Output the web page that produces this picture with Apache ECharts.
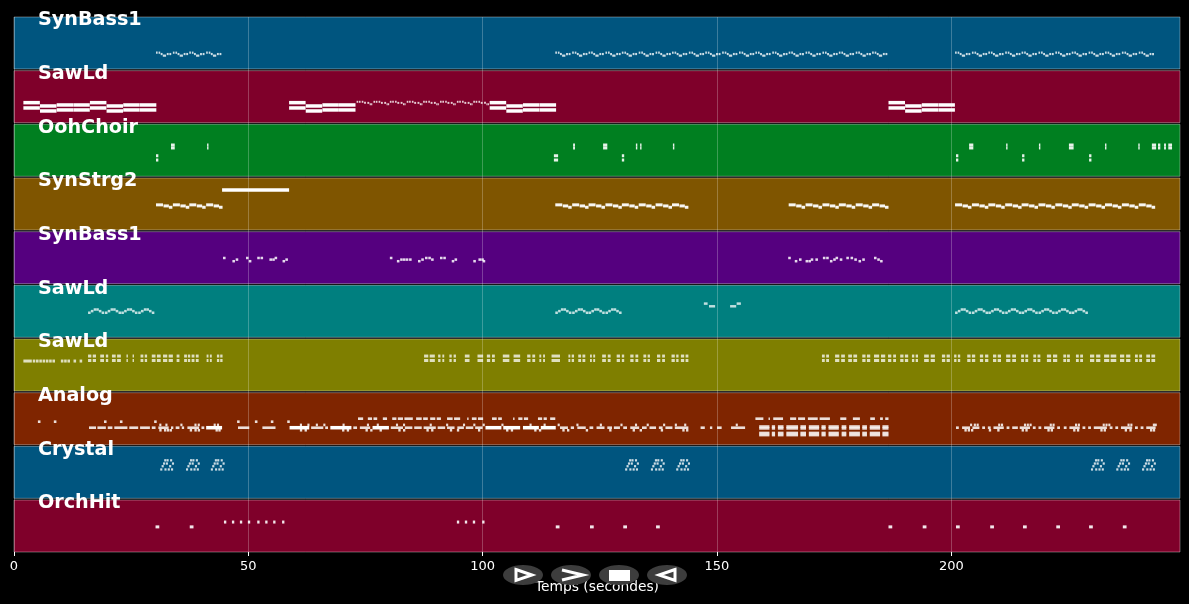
<!DOCTYPE html>
<html><head><meta charset="utf-8">
<style>html,body{margin:0;padding:0;background:#000}#c{width:1189px;height:604px}</style>
<script src="https://cdn.jsdelivr.net/npm/echarts@6/dist/echarts.min.js"></script>
</head><body><div id="c"></div>
<script>
const trackNames = ['SynBass1','SawLd','OohChoir','SynStrg2','SynBass1','SawLd','SawLd','Analog','Crystal','OrchHit'];
const xTicks = [0,50,100,150,200];
const xTitle = 'Temps (secondes)';

// each lane: [relative pitch height in the lane, starts, duration]  or  [relative pitch height, [start,end,start,end...]]
const lanesSynBass1 = [
 [.665,[30.3,30.85,33.9,34.45,37.4,37.95,41,41.55,115.5,116.05,119.1,119.65,122.6,123.15,126.2,126.75,129.7,130.25,133.3,133.85,136.9,137.45,140.4,140.95,144,144.55,147.5,148.05,151.1,151.65,154.7,155.25,158.2,158.75,161.8,162.35,165.3,165.85,168.9,169.45,172.5,173.05,176,176.55,179.6,180.15,183.1,183.65,200.8,201.35,204.4,204.95,207.9,208.45,211.5,212.05,215,215.55,218.6,219.15,222.2,222.75,225.7,226.25,229.3,229.85,232.8,233.35,236.4,236.95,240,240.55],.35],
 [.69,[31.3,32.6,33.15,34.9,36.2,36.75,38.4,39.7,40.25,42,43.3,43.85,116.5,117.8,118.35,120.1,121.4,121.95,123.6,124.9,125.45,127.2,128.5,129.05,130.7,132,132.55,134.3,135.6,136.15,137.9,139.2,139.75,141.4,142.7,143.25,145,146.3,146.85,148.5,149.8,150.35,152.1,153.4,153.95,155.7,157,157.55,159.2,160.5,161.05,162.8,164.1,164.65,166.3,167.6,168.15,169.9,171.2,171.75,173.5,174.8,175.35,177,178.3,178.85,180.6,181.9,182.45,184.1,185.4,185.95,201.8,203.1,203.65,205.4,206.7,207.25,208.9,210.2,210.75,212.5,213.8,214.35,216,217.3,217.85,219.6,220.9,221.45,223.2,224.5,225.05,226.7,228,228.55,230.3,231.6,232.15,233.8,235.1,235.65,237.4,238.7,239.25,241,242.3,242.85],.4],
 [.72,[31.75,35.35,38.85,42.45,116.95,120.55,124.05,127.65,131.15,134.75,138.35,141.85,145.45,148.95,152.55,156.15,159.65,163.25,166.75,170.35,173.95,177.45,181.05,184.55,202.25,205.85,209.35,212.95,216.45,220.05,223.65,227.15,230.75,234.25,237.85,241.45],.7]
];
const lanesSawLdA = [
 [.596,[2,16.2,58.7,101.5,186.6],3.52],[.695,[2,16.2,58.7,101.5,186.6],3.52],
 [.658,[5.55,19.75,62.25,105.05,190.15],3.52],[.751,[5.55,19.75,62.25,105.05,190.15],3.52],
 [.639,[9.1,12.65,23.3,26.85,65.8,69.35,108.6,112.15,193.7,197.25],3.52],[.732,[9.1,12.65,23.3,26.85,65.8,69.35,108.6,112.15,193.7,197.25],3.52],
 [.58,[73.1,73.6,74.2,76.7,77.2,77.8,80.2,80.7,81.3,83.8,84.3,84.9,87.3,87.8,88.4,90.9,91.4,92,94.5,95,95.6,98,98.5,99.1],.35],
 [.6,[74.7,75.4,78.3,79,81.8,82.5,85.4,86.1,88.9,89.6,92.5,93.2,96.1,96.8,99.6,100.3],.4],
 [.625,[75.9,76.2,79.5,79.8,83,83.3,86.6,86.9,90.1,90.4,93.7,94,97.3,97.6,100.8,101.1],.25]
];
const lanesOohChoir = [
 [.385,[33.5,34.3,41.2,41.5,119.3,119.7,125.7,126.6,132.7,133,133.6,133.9,140.6,140.9,203.8,204.7,211.7,212,218.7,219,225.1,226.1,232.8,233.1,239.9,240.2,242.8,243.7,244.1,244.6,245.4,245.8,246.3,247.1]],
 [.44,[33.5,34.3,41.2,41.5,119.3,119.7,125.7,126.6,132.7,133,133.6,133.9,140.6,140.9,203.8,204.7,211.7,212,218.7,219,225.1,226.1,232.8,233.1,239.9,240.2,242.8,243.7,244.1,244.6,245.4,245.8,246.3,247.1]],
 [.585,[30.3,30.8,115.2,116.1,129.7,130.2,201,201.5,215.1,215.6,229.4,229.9]],
 [.665,[30.3,30.8,115.2,116.1,129.7,130.2,201,201.5,215.1,215.6,229.4,229.9]]
];
const lanesSynStrg2 = [
 [.224,[44.4,58.7]],
 [.5,[30.3,33.9,37.4,41,115.5,119.1,122.6,126.2,129.7,133.3,136.9,140.4,165.3,168.9,172.5,176,179.6,183.1,200.8,204.4,207.9,211.5,215,218.6,222.2,225.7,229.3,232.8,236.4,240],1.5],
 [.52,[31.9,35.5,39,42.6,117.1,120.7,124.2,127.8,131.3,134.9,138.5,142,166.9,170.5,174.1,177.6,181.2,184.7,202.4,206,209.5,213.1,216.6,220.2,223.8,227.3,230.9,234.4,238,241.6],1.15],
 [.545,[33.05,36.65,40.15,43.75,118.25,121.85,125.35,128.95,132.45,136.05,139.65,143.15,168.05,171.65,175.25,178.75,182.35,185.85,203.55,207.15,210.65,214.25,217.75,221.35,224.95,228.45,232.05,235.55,239.15,242.75],.75]
];
const lanesSynBass1B = [
 [.49,[44.6,49.5,51.9,52.6,55.6,80.2,87.7,88.4,90.9,91.6,165.2,172.6,173.3,175.3,177.6,178.5,183.5],.55],
 [.52,[47.3,54.5,55.1,57.9,82.4,83,83.6,84.3,86.9,89,94,99.1,99.7,167.5,170,171,174.8,176.2,179.3,181,184.2],.55],
 [.55,[46.6,50.1,57.3,81.7,86.2,93.4,98,100,166.6,168.9,169.5,174.1,180.2,184.8],.55]
];
const lanesSawLdB = [
 [.51,[15.8,18.7,19.4,22.3,22.9,25.8,26.5,29.4,115.5,118.4,119.1,122,122.6,125.5,126.2,129.1,200.8,203.7,204.4,207.3,207.9,210.8,211.5,214.4,215,217.9,218.6,221.5,222.2,225.1,225.7,228.6],.55],
 [.48,[16.4,18.1,20,21.7,23.5,25.2,27.1,28.8,116.1,117.8,119.7,121.4,123.2,124.9,126.8,128.5,201.4,203.1,205,206.7,208.5,210.2,212.1,213.8,215.6,217.3,219.2,220.9,222.8,224.5,226.3,228],.55],
 [.45,[17,17.55,20.6,21.15,24.1,24.65,27.7,28.25,116.7,117.25,120.3,120.85,123.8,124.35,127.4,127.95,202,202.55,205.6,206.15,209.1,209.65,212.7,213.25,216.2,216.75,219.8,220.35,223.4,223.95,226.9,227.45],.55],
 [.34,[147.2,148,154.2,155.1]],
 [.39,[148.3,149.6,152.8,154.1]]
];
const sawLdCBlocks = [15.8,16.5,16.8,17.5,18.4,19.2,19.6,20.1,20.9,21.7,22,22.8,24,24.3,25.3,25.6,27,27.6,27.9,28.4,29.4,30.2,30.5,31.3,31.8,32.7,33,33.9,34.7,35.3,36.3,36.9,37.1,37.6,37.9,38.5,38.8,39.4,41.1,41.5,41.8,42.2,43.3,43.8,44,44.5,
 87.5,88.4,88.7,89.8,90.5,91,91.4,91.8,92.9,93.4,93.8,94.3,96.2,97.2,98.9,100.1,100.9,101.6,102,102.6,104.3,105.7,106.6,108,109.5,110.2,110.6,111.2,112.1,112.5,112.9,113.3,114.7,116.5,118.3,118.7,119,119.5,120.4,121,121.3,121.9,122.9,123.3,123.6,124,125.5,126.3,126.7,127.3,128.6,129.3,129.7,130.2,131.5,132.2,132.6,133.2,134.3,134.9,135.2,135.7,137.2,137.9,138.3,138.9,140.3,141,141.3,141.8,142.3,143,143.3,143.9,
 172.4,173,173.3,173.9,175.2,176.1,176.5,177.3,178,178.8,179.1,179.9,181,181.7,182,182.7,183.5,184.6,185,185.9,186.5,187.2,187.6,188.2,189.1,189.8,190.1,190.8,191.6,192.1,192.4,192.9,194.2,195.2,195.6,196.5,198,198.7,199,199.7,200.6,201.1,201.4,201.9,203.4,204.1,204.4,205.1,206.1,206.8,207.2,207.9,208.9,209.6,209.9,210.6,211.7,212.6,213,213.8,214.9,215.5,215.8,216.4,217.5,218.1,218.4,219,220.4,221.3,221.7,222.6,223.9,224.5,224.7,225.3,226.6,227.2,227.5,228.1,229.6,230.5,230.9,231.8,232.6,233.7,234,235.2,236,236.9,237.3,238.2,239.2,239.8,240.1,240.7,241.6,242.4,242.7,243.5];
const lanesSawLdC = [
 [.317,sawLdCBlocks],[.4,sawLdCBlocks],
 [.41,[2,3.8]],
 [.41,[4,4.7,5.4,6.1,6.8,7.5,8.2,10,10.7,11.4,12.7,14],.55]
];
const analogMain = [16,17.5,17.8,19.6,20,21,21.4,24.2,24.6,26.5,26.9,29,29.4,30.2,30.8,33,33.5,34,34.5,35.3,35.8,36.3,37,39.5,40,40.6,41,44.4,47.8,50.2,53,55.8,
 58.8,63,63.4,66,66.4,67,67.5,72,72.4,73.2,73.8,76,76.5,80,80.4,83,83.4,85,85.4,87,87.4,90,90.4,92,92.4,94,94.6,96,96.4,98,98.4,100,100.6,104,104.4,108,108.6,112,112.4,115.6,116.5,118.2,118.8,119.5,120.2,122,122.8,123.6,124.3,126,126.6,127.6,128,129.3,130,130.8,131.5,133.4,134,135,135.6,137,137.6,138.4,139,140.5,141,143.9,146.5,147.4,148.5,149,150,151,153,156,
 201,201.6,202.3,204,204.5,206,206.6,207.2,207.8,208.4,209,211.2,211.8,212.4,213,214.2,214.6,216.8,217.4,218,218.6,219.2,219.8,222,222.6,223.2,224,224.6,225.2,227.4,228,228.6,229.2,229.8,230.4,233.2,233.8,234.4,235,235.6,236.2,238.6,239.2,239.8,240.4,241,241.6,243.6];
const analogChord = [159,161.2,161.7,162.4,163,164.2,164.8,167.3,167.8,169,169.6,171.8,172.3,173.2,173.8,176,176.6,177.6,178.2,180.5,181,182,182.6,184.8,185.3,186.6];
const analogUpper = [73.4,74.5,75.5,76.4,76.7,77.5,78.7,79.6,80.7,81.6,81.9,83,83.3,85.1,85.8,87,87.3,88.3,88.8,89.9,90.2,91.1,92.4,93.6,93.9,95.2,96.7,97,97.7,98.7,99,100.1,102,103,103.3,104.1,106.5,106.8,107.6,108.5,108.8,109.7,111.8,112.7,113,113.7,114.4,115.5,
 158.2,159.9,161,161.3,162,164.1,165.6,166.9,167.3,168.8,169.4,171.5,171.9,174.1,176.3,177.6,179,180.5,182.7,183.7,184.8,185.4,185.9,186.6];
const lanesAnalog = [
 [.54,[5.1,8.5,19.2,22.6,29.9,47.6,51.4,54.8,58.3],.55],
 [.484,analogUpper],
 [.652,analogMain],
 [.6,[31,32.3,35.5,38.5,39.2,42.6,43.3,61,62.6,64.4,66,70.1,75.3,77.4,81.5,83,88.7,92.2,95.8,98,100,104,110,113,116,120,125,129.4,132.5,135,138.5,141,143,154,204,204.8,205.4,210,210.6,215.5,216.1,216.7,221,221.6,226.4,227,232.3,232.9,233.5,237.6,238.2,243,243.4],.45],
 [.7,[31,32,32.6,33.2,37.5,38.5,39.2,43,43.6,61,62,70,71,75,76,78,82,83,88,89,93,94.5,99,105,106,111,112,117,118,122,127,132,133.5,138,142.6,143.4,202.8,203.5,204.2,208,209.8,215,215.8,220.5,221.2,226,226.8,231.8,232.5,237,238,242.4,243],.5],
 [.63,analogChord],[.665,analogChord],[.75,analogChord],[.79,analogChord]
];
const lanesCrystal = [
 [.43,[31.2,32.1,32.8,33.5,36.7,37.6,38.3,39,42,42.9,43.6,44.3,130.4,131.3,132,132.7,135.9,136.8,137.5,138.2,141.3,142.2,142.9,143.6,229.8,230.7,231.4,232.1,235.2,236.1,236.8,237.5,240.7,241.6,242.3,243],.45],
 [.37,[31.5,33.1,37,38.6,42.3,43.9,130.7,132.3,136.2,137.8,141.6,143.2,230.1,231.7,235.5,237.1,241,242.6],.45],
 [.32,[31.8,32.4,33.7,37.3,37.9,39.2,42.6,43.2,44.5,131,131.6,132.9,136.5,137.1,138.4,141.9,142.5,143.8,230.4,231,232.3,235.8,236.4,237.7,241.3,241.9,243.2],.45],
 [.26,[32.05,32.55,33.3,37.55,38.05,38.8,42.85,43.35,44.1,131.25,131.75,132.5,136.75,137.25,138,142.15,142.65,143.4,230.65,231.15,231.9,236.05,236.55,237.3,241.55,242.05,242.8],.45]
];
const lanesOrchHit = [
 [.41,[44.8,46.5,48.2,49.9,51.9,53.6,55.3,57.2,94.5,96.2,97.9,99.9],.5],
 [.5,[30.2,37.5,115.6,122.9,130,137,186.6,193.9,201,208.3,215.3,222.4,229.4,236.6],.8]
];
const allLanes = [lanesSynBass1,lanesSawLdA,lanesOohChoir,lanesSynStrg2,lanesSynBass1B,lanesSawLdB,lanesSawLdC,lanesAnalog,lanesCrystal,lanesOrchHit];

// styles
const bandColors = ['#00557f','#7f002a','#007f20','#7f5500','#55007f','#007f7f','#7f7f00','#7f2500','#00557f','#7f002a'];
const noteThickness = [2.2,2,3,3,2.5,2.5,3,2.6,2.3,3];
const noteAlpha = [.8,.8,.9,.95,.85,.75,.75,.85,.8,.9];

const xMax = 248.8, laneSpan = .968;
const bandData = trackNames.map((n,i)=>[0,xMax,i]);
const noteData = [];
allLanes.forEach((lanes,row)=>lanes.forEach(l=>{
  const [lvl,list,dur] = l;
  const add=(s,e)=>{
    const long = e-s>3;
    noteData.push([s,e,row+lvl,long?3.5:noteThickness[row],long?1:noteAlpha[row]]);
  };
  if(dur===undefined){ for(let k=0;k+1<list.length;k+=2) add(list[k],list[k+1]); }
  else list.forEach(s=>add(s,s+dur));
}));

const chart = echarts.init(document.getElementById('c'),null,{renderer:'canvas'});
const font = '"DejaVu Sans"';
const tri = (pts,closed)=>({type:closed?'polygon':'polyline',z:102,shape:{points:pts},style:{fill:closed?'rgba(0,0,0,0)':'none',stroke:'#fff',lineWidth:3}});
const pill = cx=>({type:'ellipse',z:101,shape:{cx,cy:575,rx:20,ry:10},style:{fill:'#3d3d3d'}});
chart.setOption({
  animation:false,
  backgroundColor:'#000',
  grid:{left:14,right:9,top:17,bottom:52,containLabel:false,outerBoundsMode:'none'},
  xAxis:{type:'value',position:'bottom',min:0,max:xMax,interval:50,z:1,
    name:xTitle,nameLocation:'middle',nameGap:28,nameTextStyle:{color:'#fff',fontSize:13.8,fontFamily:font},
    axisLine:{show:false,onZero:false},
    axisTick:{show:true,length:4,customValues:xTicks,lineStyle:{color:'#fff',width:1}},
    axisLabel:{color:'#fff',fontSize:13,fontFamily:font,margin:8,customValues:xTicks},
    splitLine:{show:true,lineStyle:{color:'rgba(255,255,255,.24)',width:1}}},
  yAxis:{type:'value',show:false,inverse:true,min:0,max:9+laneSpan,splitLine:{show:false}},
  series:[
    {type:'custom',z:0,silent:true,clip:false,data:bandData,encode:{x:[0,1],y:2},
     renderItem(p,api){
       const a=api.coord([api.value(0),api.value(2)]),b=api.coord([api.value(1),api.value(2)+laneSpan]);
       return {type:'rect',shape:{x:a[0],y:a[1],width:b[0]-a[0],height:b[1]-a[1]},
         style:{fill:bandColors[p.dataIndex],stroke:'rgba(255,255,255,.35)',lineWidth:1}};
     }},
    {type:'custom',z:3,silent:true,clip:false,data:noteData,encode:{x:[0,1],y:2},
     renderItem(p,api){
       const a=api.coord([api.value(0),api.value(2)]),b=api.coord([api.value(1),api.value(2)]);
       const h=api.value(3);
       return {type:'rect',shape:{x:a[0],y:a[1]-h/2,width:Math.max(b[0]-a[0],1),height:h},
         style:{fill:'rgba(255,255,255,'+api.value(4)+')'}};
     }},
    {type:'custom',z:4,silent:true,clip:false,data:trackNames.map((n,i)=>[5.1,i+.06]),encode:{x:0,y:1},
     renderItem(p,api){
       const a=api.coord([api.value(0),api.value(1)]);
       return {type:'text',style:{x:a[0],y:a[1],text:trackNames[p.dataIndex],fill:'#fff',
         font:'bold 19.2px '+font,textAlign:'left',textVerticalAlign:'middle'}};
     }}
  ],
  graphic:{elements:[
    pill(523),pill(571),pill(619),pill(667),
    tri([[516,569.5],[532,575],[516,580.5]],true),
    tri([[562,570],[583,575],[562,580]],false),
    {type:'rect',z:102,shape:{x:609,y:570,width:21,height:11},style:{fill:'#fff'}},
    tri([[675,569.5],[659,575],[675,580.5]],true)
  ]}
});
</script></body></html>
